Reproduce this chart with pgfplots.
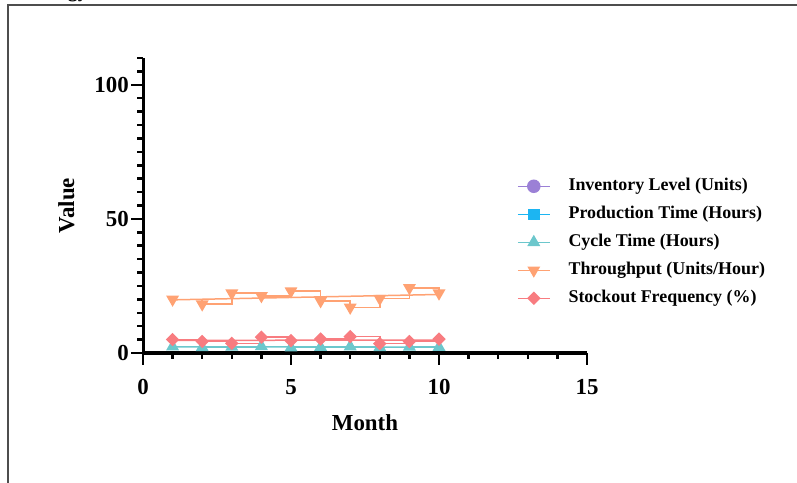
\documentclass[border=0pt]{standalone}
\usepackage{fontspec}
\setmainfont{Liberation Serif}
\usepackage{pgfplots}
\usepackage{pgfplotstable}
\pgfplotsset{compat=1.18}
\definecolor{cInv}{HTML}{9B80D6}
\definecolor{cProd}{HTML}{1CB5F2}
\definecolor{cCyc}{HTML}{6CC7CC}
\definecolor{cThr}{HTML}{FFA273}
\definecolor{cStk}{HTML}{F87C80}
\definecolor{cFrame}{HTML}{4D4D4D}

\pgfplotstableread{
month inv prod cyc thr stk
1 520 160 2.4 20.0 5.0
2 505 155 2.1 18.2 4.3
3 530 165 2.3 22.3 3.6
4 498 158 2.5 21.3 5.9
5 515 162 2.0 23.1 4.6
6 540 150 2.2 19.4 5.2
7 510 168 2.4 17.0 6.1
8 525 152 2.1 20.3 3.5
9 500 157 2.3 24.3 4.3
10 535 163 2.2 22.3 5.2
}\datatable

\begin{document}
\begin{tikzpicture}
\useasboundingbox (0,0) rectangle (797bp,483bp);
\draw[line width=2bp, cFrame] (8bp,-5bp) -- (8bp,478bp) -- (805bp,478bp);
\node[anchor=base east, font=\bfseries\fontsize{20}{24}\selectfont, inner sep=0pt] at (88bp,485bp) {Strategy};
\begin{axis}[
  at={(143bp,130bp)}, anchor=south west,
  scale only axis, width=444bp, height=295bp,
  xmin=0, xmax=15, ymin=0, ymax=110,
  axis lines=left,
  axis line style={-, line width=3bp, black},
  xtick={0,5,10,15}, minor xtick={1,2,3,4,6,7,8,9,11,12,13,14},
  ytick={0,50,100}, minor ytick={5,10,15,20,25,30,35,40,45,55,60,65,70,75,80,85,90,95,105,110},
  tick align=outside,
  major tick length=12bp, minor tick length=6bp,
  every tick/.style={black, line width=2.5bp},
  /pgf/number format/assume math mode=true,
  ticklabel style={font=\bfseries\fontsize{23}{27}\selectfont},
  yticklabel style={inner sep=0pt, xshift=-2bp},
  xticklabel style={inner sep=0pt, yshift=-14bp},
  xlabel={Month}, ylabel={Value},
  label style={font=\bfseries\fontsize{23}{27}\selectfont},
  xlabel style={at={(axis description cs:0.5,0)}, anchor=base, yshift=-77bp},
  ylabel style={at={(axis description cs:-0.1554,0.5)}, anchor=base, rotate=0},
  legend style={draw=none, fill=none, at={(0.842,0.593)}, anchor=north west,
    inner sep=0pt, font=\bfseries\fontsize{18}{21}\selectfont,
    row sep=12bp, nodes={inner sep=0pt, text height=12bp, text depth=4bp},
    /tikz/every odd column/.append style={column sep=18bp}},
  legend cell align=left,
  legend image code/.code={\draw[mark repeat=2,mark phase=2,#1] plot coordinates {(0bp,0bp) (16bp,0bp) (32bp,0bp)};},
]
\addplot[cInv, line width=1.5bp, const plot mark left, mark=*, mark size=6bp, mark options={solid, fill=cInv, draw=cInv}] table[x=month,y=inv] {\datatable};
\addlegendentry{Inventory Level (Units)}
\addplot[cProd, line width=1.5bp, const plot mark left, mark=square*, mark size=5bp, mark options={solid, fill=cProd, draw=cProd}] table[x=month,y=prod] {\datatable};
\addlegendentry{Production Time (Hours)}
\addplot[cCyc, line width=1.5bp, const plot mark left, mark=triangle*, mark size=6bp, mark options={solid, fill=cCyc, draw=cCyc}] table[x=month,y=cyc] {\datatable};
\addlegendentry{Cycle Time (Hours)}
\addplot[cThr, line width=1.5bp, const plot mark left, mark=triangle*, mark size=6bp, mark options={solid, rotate=180, fill=cThr, draw=cThr}] table[x=month,y=thr] {\datatable};
\addlegendentry{Throughput (Units/Hour)}
\addplot[cStk, line width=1.5bp, const plot mark left, mark=square*, mark size=4bp, mark options={solid, rotate=45, fill=cStk, draw=cStk}] table[x=month,y=stk] {\datatable};
\addlegendentry{Stockout Frequency (\%)}
\addplot[cCyc, line width=1.5bp, no marks, forget plot] table[x=month, y={create col/linear regression={y=cyc}}] {\datatable};
\addplot[cThr, line width=1.5bp, no marks, forget plot] table[x=month, y={create col/linear regression={y=thr}}] {\datatable};
\addplot[cStk, line width=1.5bp, no marks, forget plot] table[x=month, y={create col/linear regression={y=stk}}] {\datatable};
\end{axis}
\end{tikzpicture}
\end{document}
